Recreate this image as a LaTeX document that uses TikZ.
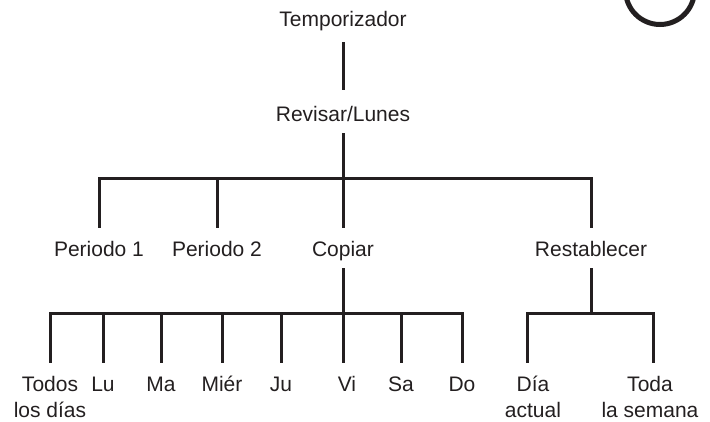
\documentclass[tikz,border=0pt]{standalone}
\usepackage{fontspec}
\setmainfont{Liberation Sans}
\definecolor{ink}{RGB}{35,31,32}
\newcommand{\firstline}{\rule{0pt}{17pt}}
\begin{document}
\begin{tikzpicture}[x=1pt,y=-1pt,
  lbl/.style={font=\fontsize{21}{26}\selectfont, text=ink, anchor=base, inner sep=0pt, text height=15pt, text depth=0pt},
  bl/.style={font=\fontsize{21}{26}\selectfont, text=ink, anchor=north, inner sep=0pt, align=center},
  ln/.style={line width=3pt, draw=ink}]
\useasboundingbox (0,0) rectangle (710,422);
\clip (0,0) rectangle (710,422);
% decorative circle at top right
\draw[line width=5pt, draw=ink] (660,-10) circle[radius=34.5];
% nodes
\node[lbl] (tempo) at (343,27) {Temporizador};
\node[lbl] (rev) at (343,122) {Revisar/Lunes};
\node[lbl] (p1) at (99,257) {Periodo 1};
\node[lbl] (p2) at (217,257) {Periodo 2};
\node[lbl] (cop) at (343,257) {Copiar};
\node[lbl] (rest) at (591,257) {Restablecer};
\node[bl] (todos) at (50,374) {\firstline Todos\\los días};
\node[bl] (lu) at (103,374) {\firstline Lu};
\node[bl] (ma) at (161,374) {\firstline Ma};
\node[bl] (mier) at (222,374) {\firstline Miér};
\node[bl] (ju) at (281,374) {\firstline Ju};
\node[bl] (vi) at (347,374) {\firstline Vi};
\node[bl] (sa) at (401,374) {\firstline Sa};
\node[bl] (do) at (462,374) {\firstline Do};
\node[bl] (dia) at (533,374) {\firstline Día\\actual};
\node[bl] (toda) at (650,374) {\firstline Toda\\la semana};
% junctions
\coordinate (jr) at (343,179);
\coordinate (jc) at (343,314);
\coordinate (js) at (591,314);
% connectors
\draw[ln, shorten <=15pt, shorten >=17pt] (tempo.south) -- (rev.north);
\draw[ln, shorten <=11pt] (rev.south) -- (jr);
\foreach \c in {p1,p2,cop,rest}
  \draw[ln, shorten >=14pt] (jr) -| (\c.north);
\draw[ln, shorten <=11pt] (cop.south) -- (jc);
\draw[ln, shorten <=11pt] (rest.south) -- (js);
\foreach \c in {todos,lu,ma,mier,ju,sa,do}
  \draw[ln, shorten >=11pt] (jc) -| (\c.north);
\draw[ln, shorten >=11pt] (jc) -| ([xshift=-4pt]vi.north);
\draw[ln, shorten >=11pt] (js) -| ([xshift=-6pt]dia.north);
\draw[ln, shorten >=11pt] (js) -| ([xshift=3pt]toda.north);
\end{tikzpicture}
\end{document}
